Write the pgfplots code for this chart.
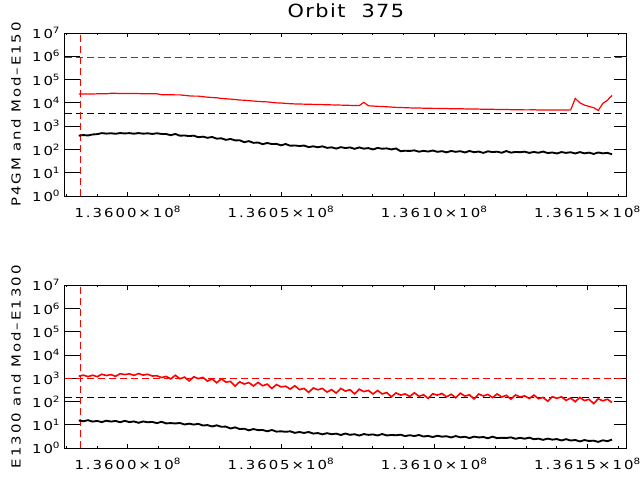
\documentclass[border=0pt]{standalone}
\usepackage{pgfplots}
\pgfplotsset{compat=1.18}
\usepackage{pgfplotstable}
\usepackage{fontspec}
\setmainfont{DejaVu Sans}[FakeStretch=1.2,LetterSpace=16]
\newfontfamily\titlefont{DejaVu Sans}[FakeStretch=1.15,LetterSpace=8]

\pgfplotstableread{
x r1 b1 r2 b2
-1.60 24000 390 1250 15.6
-1.45 24000 414 1384 14.45
-1.30 24000 398 1193 16.1
-1.15 24000 439 1376 13.97
-1.00 24500 453 1184 14.9
-0.85 24500 502 1510 13.3
-0.70 24500 478 1334 15.3
-0.55 25800 495 1456 14.0
-0.40 25800 470 1233 14.9
-0.25 25000 505 1591 13.1
-0.10 25000 485 1463 15.1
0.05 25000 502 1579 13.3
0.20 25000 473 1347 14.2
0.35 25000 504 1617 12.4
0.50 24500 475 1387 14.2
0.65 24500 492 1508 13.1
0.80 24500 463 1269 13.5
0.95 24500 494 1299 12.0
1.10 22500 463 1086 13.75
1.25 22500 459 1221 11.7
1.40 22500 409 955 12.1
1.55 22000 462 1364 11.6
1.70 22000 389 968 12.2
1.85 21000 398 1133 10.5
2.00 20000 375 778 11.4
2.15 19500 391 1174 10.4
2.30 19500 334 980 11.2
2.45 18500 354 1109 9.5
2.60 17500 315 765 9.9
2.75 17000 343 952 8.65
2.90 16500 290 647 9.65
3.05 15500 301 964 8.4
3.20 15000 258 690 8.5
3.35 14500 281 746 7.07
3.50 14000 245 469 7.9
3.65 13200 247 719 6.7
3.80 13000 205 575 6.9
3.95 12500 227 661 5.9
4.10 12000 192 472 6.7
4.25 11500 198 672 6.0
4.40 11200 168 486 6.1
4.55 11000 189 567 5.36
4.70 10500 170 371 6.1
4.85 10000 173 545 5.2
5.00 9800 150 432 5.35
5.15 9500 171 462 5.1
5.30 9200 144 348 5.35
5.45 9000 148 484 4.6
5.60 8900 140 330 5.0
5.75 8800 147 373 4.56
5.90 8700 126 252 5.0
6.05 8600 136 388 4.28
6.20 8500 124 325 4.5
6.35 8400 136 372 3.96
6.50 8300 117 259 4.45
6.65 8200 123 330 4.0
6.80 8100 109 234 4.25
6.95 8000 125 372 3.72
7.10 7900 115 285 4.29
7.25 7800 122 328 3.78
7.40 7700 106 217 4.02
7.55 7600 122 345 3.52
7.70 10500 108 271 4.07
7.85 7500 114 305 3.77
8.00 7300 100 215 3.93
8.15 7100 116 302 3.53
8.30 7000 107 216 4.09
8.45 6800 111 246 3.55
8.60 6600 100 162 3.73
8.75 6400 110 238 3.62
8.90 6300 84 192 3.83
9.05 6200 88 215 3.33
9.20 6100 86 168 3.64
9.35 6000 91 241 3.35
9.50 6000 80 171 3.72
9.65 5900 87 199 3.2
9.80 5900 81 139 3.4
9.95 5800 90 219 3.03
10.10 5800 79 192 3.45
10.25 5700 84 225 3.15
10.40 5700 75 162 3.29
10.55 5600 86 209 2.91
10.70 5600 79 148 3.35
10.85 5600 84 232 2.95
11.00 5500 74 175 3.13
11.15 5500 86 197 2.74
11.30 5400 76 131 3.16
11.45 5400 81 214 2.92
11.60 5300 71 176 3.04
11.75 5300 83 206 2.69
11.90 5300 77 150 3.15
12.05 5200 80 216 2.72
12.20 5200 72 159 2.82
12.35 5200 85 188 2.77
12.50 5100 73 128 2.94
12.65 5100 78 195 2.56
12.80 5100 76 160 2.81
12.95 5000 80 178 2.58
13.10 5000 71 137 2.86
13.25 5100 78 193 2.45
13.40 4900 72 134 2.59
13.55 4900 81 153 2.3
13.70 4900 70 105 2.6
13.85 4900 74 163 2.35
14.00 4900 67 140 2.48
14.15 4900 77 162 2.16
14.30 4900 71 114 2.46
14.45 5000 76 144 2.15
14.60 15500 67 100 2.27
14.75 10000 77 153 1.97
14.90 8000 68 112 2.25
15.05 7000 73 126 2.06
15.20 6200 64 83 2.12
15.35 4700 74 133 1.88
15.50 9500 68 109 2.2
15.65 13000 71 128 2.02
15.80 21000 62 92 2.35
}\datatab

% long y tick marks (IDL style): left from x=-2.05 to -1.56, right from 15.86 to 16.28
\pgfplotstableread{
x y
-2.05 10
-1.56 10
nan nan
-2.05 100
-1.56 100
nan nan
-2.05 1000
-1.56 1000
nan nan
-2.05 10000
-1.56 10000
nan nan
-2.05 100000
-1.56 100000
nan nan
-2.05 1000000
-1.56 1000000
nan nan
15.86 10
16.28 10
nan nan
15.86 100
16.28 100
nan nan
15.86 1000
16.28 1000
nan nan
15.86 10000
16.28 10000
nan nan
15.86 100000
16.28 100000
nan nan
15.86 1000000
16.28 1000000
}\yticktab

\begin{document}
\begin{tikzpicture}
\useasboundingbox (0,0) rectangle (482.25pt,360pt);
% ---------- top panel ----------
\begin{axis}[at={(48.75pt,213pt)}, anchor=south west,
    scale only axis, width=421.3pt, height=122.25pt,
    xmin=-2.05, xmax=16.28,
    ymode=log, ymin=1, ymax=1e7,
    xtick={0,5,10,15},
    xticklabels={1.3600×10\textsuperscript{8},1.3605×10\textsuperscript{8},1.3610×10\textsuperscript{8},1.3615×10\textsuperscript{8}},
    minor xtick={-2,-1,1,2,3,4,6,7,8,9,11,12,13,14,16},
    ytick={1,10,100,1000,10000,100000,1000000,10000000},
    yticklabels={10\textsuperscript{0},10\textsuperscript{1},10\textsuperscript{2},10\textsuperscript{3},10\textsuperscript{4},10\textsuperscript{5},10\textsuperscript{6},10\textsuperscript{7}},
    yminorticks=false,
    axis line style={line width=0.75pt},
    tick style={line width=0.75pt, black},
    major tick length=3.3pt,
    minor tick length=1.6pt,
    unbounded coords=jump,
    tick label style={font=\fontsize{9.3}{11}\selectfont},
    xticklabel style={anchor=base, yshift=-16pt},
    ylabel style={at={(axis description cs:-0.087,0.5)}, anchor=center, font=\fontsize{9.3}{11}\selectfont},
    title={\titlefont Orbit\hspace{12pt}375},
    title style={at={(0.5,1)}, anchor=base, yshift=6pt, font=\fontsize{13.6}{16}\selectfont},
    ylabel={P4GM and Mod–E150}]
\addplot[black, line width=0.75pt] table[x=x, y=y] {\yticktab};
\addplot[red, line width=0.75pt, dash pattern=on 5.25pt off 3pt] coordinates {(-2.05,850000) (16.28,850000)};
\addplot[black, line width=0.75pt, dash pattern=on 5.25pt off 3pt] coordinates {(-2.05,3600) (16.28,3600)};
\addplot[red, line width=0.75pt, dash pattern=on 5.25pt off 3pt] coordinates {(-1.53,1) (-1.53,1e7)};
\addplot[red, line width=0.9pt] table[x=x, y=r1] {\datatab};
\addplot[black, line width=1.4pt] table[x=x, y=b1] {\datatab};
\end{axis}
% ---------- bottom panel ----------
\begin{axis}[at={(48.75pt,23.8pt)}, anchor=south west,
    scale only axis, width=421.3pt, height=122.25pt,
    xmin=-2.05, xmax=16.28,
    ymode=log, ymin=1, ymax=1e7,
    xtick={0,5,10,15},
    xticklabels={1.3600×10\textsuperscript{8},1.3605×10\textsuperscript{8},1.3610×10\textsuperscript{8},1.3615×10\textsuperscript{8}},
    minor xtick={-2,-1,1,2,3,4,6,7,8,9,11,12,13,14,16},
    ytick={1,10,100,1000,10000,100000,1000000,10000000},
    yticklabels={10\textsuperscript{0},10\textsuperscript{1},10\textsuperscript{2},10\textsuperscript{3},10\textsuperscript{4},10\textsuperscript{5},10\textsuperscript{6},10\textsuperscript{7}},
    yminorticks=false,
    axis line style={line width=0.75pt},
    tick style={line width=0.75pt, black},
    major tick length=3.3pt,
    minor tick length=1.6pt,
    unbounded coords=jump,
    tick label style={font=\fontsize{9.3}{11}\selectfont},
    xticklabel style={anchor=base, yshift=-16pt},
    ylabel style={at={(axis description cs:-0.087,0.5)}, anchor=center, font=\fontsize{9.3}{11}\selectfont},
    ylabel={E1300 and Mod–E1300}]
\addplot[black, line width=0.75pt] table[x=x, y=y] {\yticktab};
\addplot[red, line width=0.75pt, dash pattern=on 5.25pt off 3pt] coordinates {(-2.05,1000) (16.28,1000)};
\addplot[black, line width=0.75pt, dash pattern=on 5.25pt off 3pt] coordinates {(-2.05,150) (16.28,150)};
\addplot[red, line width=0.75pt, dash pattern=on 5.25pt off 3pt] coordinates {(-1.53,1) (-1.53,1e7)};
\addplot[red, line width=1.2pt] table[x=x, y=r2] {\datatab};
\addplot[black, line width=1.4pt] table[x=x, y=b2] {\datatab};
\end{axis}
\end{tikzpicture}
\end{document}
